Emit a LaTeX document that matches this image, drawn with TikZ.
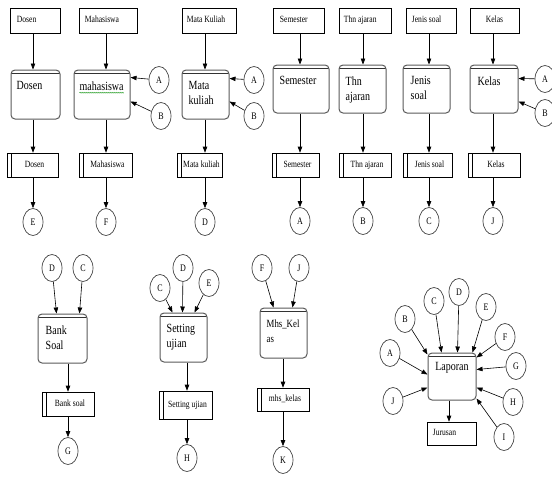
\documentclass[tikz,border=0pt]{standalone}
\usepackage{fontspec}
\setmainfont{Liberation Serif}[FakeStretch=0.8]
\usetikzlibrary{arrows.meta,fit,shapes.geometric,decorations.pathmorphing}

\tikzset{
  ent/.style={draw=black, line width=0.6pt, inner sep=0pt},
  proc/.style={draw=black!65, line width=1pt, rounded corners=4pt, inner sep=0pt,
    path picture={\draw[black!80, line width=0.8pt]
      ([yshift=-3pt]path picture bounding box.north west) --
      ([yshift=-3pt]path picture bounding box.north east);}},
  store/.style={draw=black, line width=0.6pt, inner sep=0pt,
    path picture={\draw[line width=0.6pt]
      ([xshift=4pt]path picture bounding box.north west) --
      ([xshift=4pt]path picture bounding box.south west);}},
  conn/.style={draw=black!75, line width=0.7pt, ellipse, minimum width=20pt,
    minimum height=27pt, inner sep=0pt, font=\fontsize{10}{11}\selectfont},
  arr/.style={-{Triangle[length=6pt,width=4.5pt]}, line width=0.6pt, black},
  lbl/.style={font=\fontsize{9.5}{11}\selectfont, inner sep=0pt,
    text height=6.5pt, text depth=2pt},
  ptxt/.style={font=\fontsize{12.5}{15}\selectfont, inner sep=0pt, align=left},
}

\begin{document}
\begin{tikzpicture}[x=1pt, y=-1pt]
\useasboundingbox (0,0) rectangle (552,477);

% column guides for the vertical flows
\coordinate (c1) at (33,0);
\coordinate (c2) at (106,0);
\coordinate (c3) at (205,0);
\coordinate (c4) at (300,0);
\coordinate (c5) at (363,0);
\coordinate (c6) at (429,0);
\coordinate (c7) at (493,0);
\coordinate (c8) at (68,0);
\coordinate (c9) at (187,0);
\coordinate (c10) at (283,0);
\coordinate (c11) at (449,0);

% ---------- top row: external entities ----------
\node[ent, fit={(10,8) (60,33)}] (eDos) {};
\node[ent, fit={(79,8) (137,33)}] (eMhs) {};
\node[ent, fit={(182,8) (236,33)}] (eMk) {};
\node[ent, fit={(273,8) (324,33)}] (eSem) {};
\node[ent, fit={(339,8) (391,33)}] (eThn) {};
\node[ent, fit={(406,8) (456,33)}] (eJen) {};
\node[ent, fit={(470,8) (519,33)}] (eKel) {};
\node[lbl, anchor=west] (eDosT) at ([xshift=7pt]eDos.west) {Dosen};
\node[lbl, anchor=west] (eMhsT) at ([xshift=6pt]eMhs.west) {Mahasiswa};
\node[lbl, anchor=west] (eMkT) at ([xshift=5pt]eMk.west) {Mata Kuliah};
\node[lbl, anchor=west] (eSemT) at ([xshift=7pt]eSem.west) {Semester};
\node[lbl, anchor=west] (eThnT) at ([xshift=5pt]eThn.west) {Thn ajaran};
\node[lbl, anchor=west] (eJenT) at ([xshift=6pt]eJen.west) {Jenis soal};
\node[lbl] (eKelT) at (eKel) {Kelas};

% ---------- top row: processes ----------
\node[proc, fit={(11,70) (60,119)}] (pDos) {};
\node[proc, fit={(74,70) (130,119)}] (pMhs) {};
\node[proc, fit={(182,70) (229,119)}] (pMk) {};
\node[proc, fit={(273,65) (329,113)}] (pSem) {};
\node[proc, fit={(339,65) (386,113)}] (pThn) {};
\node[proc, fit={(403,65) (450,113)}] (pJen) {};
\node[proc, fit={(470,65) (518,113)}] (pKel) {};
\node[ptxt, anchor=north west] (pDosT) at ([xshift=6pt,yshift=-12pt]pDos.north west) {Dosen};
\node[ptxt, anchor=north west] (pMhsT) at ([xshift=6pt,yshift=-12pt]pMhs.north west) {mahasiswa};
\node[ptxt, anchor=north west] (pMkT) at ([xshift=7pt,yshift=-12pt]pMk.north west) {Mata\\kuliah};
\node[ptxt, anchor=north west] (pSemT) at ([xshift=7pt,yshift=-12pt]pSem.north west) {Semester};
\node[ptxt, anchor=north west] (pThnT) at ([xshift=7pt,yshift=-12pt]pThn.north west) {Thn\\ajaran};
\node[ptxt, anchor=north west] (pJenT) at ([xshift=8pt,yshift=-12pt]pJen.north west) {Jenis\\soal};
\node[ptxt, anchor=north west] (pKelT) at ([xshift=8pt,yshift=-12pt]pKel.north west) {Kelas};
% spell-check squiggle under "mahasiswa"
\draw[green!55!black, line width=0.4pt, decorate,
      decoration={snake, amplitude=0.5pt, segment length=2pt}]
  ([yshift=-2pt]pMhsT.south west) -- ([yshift=-2pt]pMhsT.south east);

% ---------- top row: data stores ----------
\node[store, fit={(7,153) (58,177)}] (sDos) {};
\node[store, fit={(79,153) (132,177)}] (sMhs) {};
\node[store, fit={(177,153) (222,177)}] (sMk) {};
\node[store, fit={(272,153) (319,177)}] (sSem) {};
\node[store, fit={(339,153) (391,177)}] (sThn) {};
\node[store, fit={(403,153) (452,177)}] (sJen) {};
\node[store, fit={(468,153) (520,177)}] (sKel) {};
\node[lbl] (sDosT) at ([xshift=2pt]sDos.center) {Dosen};
\node[lbl] (sMhsT) at ([xshift=2pt]sMhs.center) {Mahasiswa};
\node[lbl] (sMkT) at ([xshift=2pt]sMk.center) {Mata kuliah};
\node[lbl] (sSemT) at ([xshift=2pt]sSem.center) {Semester};
\node[lbl] (sThnT) at ([xshift=2pt]sThn.center) {Thn ajaran};
\node[lbl] (sJenT) at ([xshift=2pt]sJen.center) {Jenis soal};
\node[lbl] (sKelT) at ([xshift=2pt]sKel.center) {Kelas};

% ---------- top row: connectors (circles) ----------
\node[conn] (oE1) at (33,222) {E};
\node[conn] (oF1) at (106,222) {F};
\node[conn] (oD1) at (205,222) {D};
\node[conn] (oA1) at (300,221) {A};
\node[conn] (oB1) at (363,221) {B};
\node[conn] (oC1) at (429,221) {C};
\node[conn] (oJ1) at (493,221) {J};
\node[conn] (oMhsA) at (159,80) {A};
\node[conn] (oMhsB) at (161,116) {B};
\node[conn] (oMkA) at (254,80) {A};
\node[conn] (oMkB) at (254,116) {B};
\node[conn] (oKelA) at (545,79) {A};
\node[conn] (oKelB) at (545,113) {B};

% ---------- top row: flows ----------
\foreach \c/\e/\p/\s/\o in {c1/eDos/pDos/sDos/oE1, c2/eMhs/pMhs/sMhs/oF1,
    c3/eMk/pMk/sMk/oD1, c4/eSem/pSem/sSem/oA1, c5/eThn/pThn/sThn/oB1,
    c6/eJen/pJen/sJen/oC1, c7/eKel/pKel/sKel/oJ1}{
  \draw[arr] (\c |- \e.south) -- (\c |- \p.north);
  \draw[arr] (\c |- \p.south) -- (\c |- \s.north);
  \draw[arr] (\c |- \s.south) -- (\o);
}
\draw[arr] (oMhsA) -- ([yshift=-8pt]pMhs.north east);
\draw[arr] (oMhsB) -- ([yshift=-32pt]pMhs.north east);
\draw[arr] (oMkA) -- ([yshift=-9pt]pMk.north east);
\draw[arr] (oMkB) -- ([yshift=-32pt]pMk.north east);
\draw[arr] (oKelA) -- ([yshift=-14pt]pKel.north east);
\draw[arr] (oKelB) -- ([yshift=-37pt]pKel.north east);

% ---------- Bank Soal ----------
\node[conn] (oBsD) at (52,268) {D};
\node[conn] (oBsC) at (83,268) {C};
\node[proc, fit={(38,314) (87,363)}] (pBs) {};
\node[ptxt, anchor=north west] (pBsT) at ([xshift=8pt,yshift=-12pt]pBs.north west) {Bank\\Soal};
\node[store, fit={(42,392) (94,416)}] (sBs) {};
\node[lbl] (sBsT) at ([xshift=2pt]sBs.center) {Bank soal};
\node[conn] (oG) at (68,451) {G};
\draw[arr] (oBsD) -- ([xshift=19pt]pBs.north west);
\draw[arr] (oBsC) -- ([xshift=42pt]pBs.north west);
\draw[arr] (c8 |- pBs.south) -- (c8 |- sBs.north);
\draw[arr] (c8 |- sBs.south) -- (oG);

% ---------- Setting ujian ----------
\node[conn] (oSuC) at (160,288) {C};
\node[conn] (oSuD) at (183,268) {D};
\node[conn] (oSuE) at (209,283) {E};
\node[proc, fit={(160,313) (207,362)}] (pSu) {};
\node[ptxt, anchor=north west] (pSuT) at ([xshift=7pt,yshift=-12pt]pSu.north west) {Setting\\ujian};
\node[store, fit={(159,391) (212,419)}] (sSu) {};
\node[lbl] (sSuT) at ([xshift=2pt]sSu.center) {Setting ujian};
\node[conn] (oH) at (187,458) {H};
\draw[arr] (oSuC) -- ([xshift=13pt]pSu.north west);
\draw[arr] (oSuD) -- ([xshift=23pt]pSu.north west);
\draw[arr] (oSuE) -- ([xshift=35pt]pSu.north west);
\draw[arr] (c9 |- pSu.south) -- (c9 |- sSu.north);
\draw[arr] (c9 |- sSu.south) -- (oH);

% ---------- Mhs_Kelas ----------
\node[conn] (oMkF) at (262,268) {F};
\node[conn] (oMkJ) at (299,268) {J};
\node[proc, fit={(260,308) (307,358)}] (pMkl) {};
\node[ptxt, font=\fontsize{11}{15}\selectfont, anchor=north west] (pMklT)
  at ([xshift=7pt,yshift=-12pt]pMkl.north west) {Mhs\_Kel\\as};
\node[store, fit={(257,388) (309,411)}] (sMkl) {};
\node[lbl] (sMklT) at ([xshift=2pt]sMkl.center) {mhs\_kelas};
\node[conn] (oK) at (283,460) {K};
\draw[arr] (oMkF) -- ([xshift=14pt]pMkl.north west);
\draw[arr] (oMkJ) -- ([xshift=33pt]pMkl.north west);
\draw[arr] (c10 |- pMkl.south) -- (c10 |- sMkl.north);
\draw[arr] (c10 |- sMkl.south) -- (oK);

% ---------- Laporan ----------
\node[proc, fit={(428,353) (476,400)}] (pLap) {};
\node[ptxt] (pLapT) at ([yshift=-15pt]pLap.north) {Laporan};
\node[ent, fit={(427,422) (476,445)}] (eJur) {};
\node[lbl, anchor=west] (eJurT) at ([xshift=6pt]eJur.west) {Jurusan};
\node[conn] (oLA) at (390,353) {A};
\node[conn] (oLB) at (405,319) {B};
\node[conn] (oLC) at (434,301) {C};
\node[conn] (oLD) at (459,292) {D};
\node[conn] (oLE) at (486,307) {E};
\node[conn] (oLF) at (505,337) {F};
\node[conn] (oLG) at (516,366) {G};
\node[conn] (oLH) at (513,402) {H};
\node[conn] (oLI) at (504,437) {I};
\node[conn] (oLJ) at (393,401) {J};
\draw[arr] (oLA) -- ([yshift=-22pt]pLap.north west);
\draw[arr] (oLJ) -- ([yshift=-35pt]pLap.north west);
\draw[arr] (oLB) -- ([yshift=-2pt]pLap.north west);
\draw[arr] (oLC) -- ([xshift=14pt]pLap.north west);
\draw[arr] (oLD) -- ([xshift=30pt]pLap.north west);
\draw[arr] (oLE) -- ([xshift=45pt]pLap.north west);
\draw[arr] (oLF) -- ([yshift=-5pt]pLap.north east);
\draw[arr] (oLG) -- ([yshift=-17pt]pLap.north east);
\draw[arr] (oLH) -- ([yshift=-35pt]pLap.north east);
\draw[arr] (oLI) -- ([yshift=-46pt]pLap.north east);
\draw[arr] (c11 |- pLap.south) -- (c11 |- eJur.north);

\end{tikzpicture}
\end{document}
